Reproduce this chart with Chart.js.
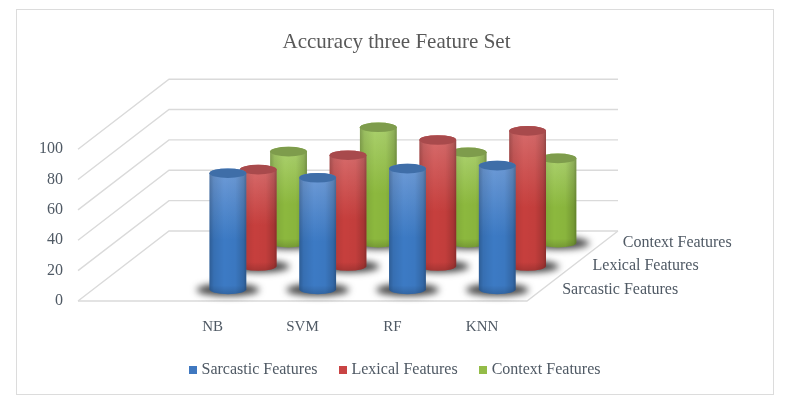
<!DOCTYPE html>
<html>
<head>
<meta charset="utf-8">
<title>Accuracy three Feature Set</title>
<script src="https://cdn.jsdelivr.net/npm/chart.js@4/dist/chart.umd.min.js"></script>
<style>
  html, body { margin: 0; padding: 0; background: #fff; }
  #frame { position: absolute; left: 16px; top: 9px; width: 756px; height: 384px; border: 1.5px solid #dcdcdc; }
  canvas { position: absolute; left: 0; top: 0; }
</style>
</head>
<body>
<div id="frame"></div>
<canvas id="myChart" width="793" height="402"></canvas>
<script>
// the first slot of the category axis is empty in the original chart
var categories = ['', 'NB', 'SVM', 'RF', 'KNN'];
var sarcastic = [null, 76.5, 73.5, 79.5, 81.5];
var lexical = [null, 63.5, 73, 83, 89];
var context = [null, 60, 76, 59.5, 55.5];
var seriesNames = ['Sarcastic Features', 'Lexical Features', 'Context Features'];

var textColor = '#4f5964';
var fontFamily = '"Liberation Serif", serif';

// oblique projection of the floor
var depthX = 91;
var depthY = -70;
var rowDepth = [1 / 6, 3 / 6, 5 / 6];

var palettes = [
    { legend: '#3f78c0', top: '#3f6ea8', upper: '#6c9ad6', lower: '#3c7ac4' },
    { legend: '#c94444', top: '#a84a4c', upper: '#d66a6a', lower: '#c63f3d' },
    { legend: '#94bc48', top: '#7e9c4c', upper: '#aad06c', lower: '#8cb83e' }
];

function swatch(color) {
    var c = document.createElement('canvas');
    c.width = 8;
    c.height = 8;
    var g = c.getContext('2d');
    g.fillStyle = color;
    g.fillRect(0, 0, 8, 8);
    return c;
}

function drawWalls(chart) {
    var ctx = chart.ctx;
    var x = chart.scales.x;
    var y = chart.scales.y;
    ctx.save();
    ctx.strokeStyle = '#dadada';
    ctx.lineWidth = 1.4;
    y.ticks.forEach(function(tick) {
        var py = y.getPixelForValue(tick.value);
        ctx.beginPath();
        ctx.moveTo(x.left, py);
        ctx.lineTo(x.left + depthX, py + depthY);
        ctx.lineTo(x.right + depthX, py + depthY);
        ctx.stroke();
    });
    // floor edges
    var floor = y.getPixelForValue(0);
    ctx.beginPath();
    ctx.moveTo(x.left, floor);
    ctx.lineTo(x.right, floor);
    ctx.lineTo(x.right + depthX, floor + depthY);
    ctx.stroke();
    ctx.restore();
}

function drawShadow(ctx, cx, cy, rx) {
    ctx.save();
    ctx.filter = 'blur(3.5px)';
    ctx.fillStyle = 'rgba(45,45,45,0.9)';
    ctx.beginPath();
    ctx.ellipse(cx, cy + 0.5, rx + 13, 6, 0, 0, Math.PI * 2);
    ctx.fill();
    ctx.restore();
}

function drawCylinder(ctx, cx, topY, baseY, rx, pal) {
    var ry = 4.8;
    var left = cx - rx;
    var right = cx + rx;

    ctx.save();
    ctx.beginPath();
    ctx.moveTo(left, topY);
    ctx.lineTo(left, baseY);
    ctx.ellipse(cx, baseY, rx, ry, 0, Math.PI, 0, true);
    ctx.lineTo(right, topY);
    ctx.ellipse(cx, topY, rx, ry, 0, 0, Math.PI, true);
    ctx.closePath();

    var vert = ctx.createLinearGradient(0, topY, 0, baseY + ry);
    vert.addColorStop(0, pal.upper);
    vert.addColorStop(0.55, pal.lower);
    vert.addColorStop(1, pal.lower);
    ctx.fillStyle = vert;
    ctx.fill();

    // round shading across the body
    var side = ctx.createLinearGradient(left, 0, right, 0);
    side.addColorStop(0, 'rgba(0,0,0,0.24)');
    side.addColorStop(0.12, 'rgba(0,0,0,0.09)');
    side.addColorStop(0.4, 'rgba(0,0,0,0)');
    side.addColorStop(0.7, 'rgba(0,0,0,0.02)');
    side.addColorStop(0.92, 'rgba(0,0,0,0.16)');
    side.addColorStop(1, 'rgba(0,0,0,0.3)');
    ctx.fillStyle = side;
    ctx.fill();

    // darker lip at the bottom
    var lip = ctx.createLinearGradient(0, baseY - 4, 0, baseY + ry);
    lip.addColorStop(0, 'rgba(0,0,0,0)');
    lip.addColorStop(1, 'rgba(0,0,0,0.16)');
    ctx.fillStyle = lip;
    ctx.fill();

    ctx.beginPath();
    ctx.ellipse(cx, topY, rx, ry, 0, 0, Math.PI * 2);
    ctx.fillStyle = pal.top;
    ctx.fill();
    ctx.restore();
}

var cylinderPlugin = {
    id: 'cylinders',
    beforeDatasetsDraw: function(chart) {
        drawWalls(chart);
    },
    // native flat bars are skipped, their elements still give the geometry
    beforeDatasetDraw: function() {
        return false;
    },
    afterDatasetsDraw: function(chart) {
        var ctx = chart.ctx;
        // back row first
        for (var i = 2; i >= 0; i--) {
            var dx = depthX * rowDepth[i];
            var dy = depthY * rowDepth[i];
            var bars = chart.getDatasetMeta(i).data;
            bars.forEach(function(bar, j) {
                if (chart.data.datasets[i].data[j] == null) return;
                drawShadow(ctx, bar.x + dx, bar.base + dy, bar.width / 2);
            });
            bars.forEach(function(bar, j) {
                if (chart.data.datasets[i].data[j] == null) return;
                drawCylinder(ctx, bar.x + dx, bar.y + dy, bar.base + dy, bar.width / 2, palettes[i]);
            });
        }
        // labels of the depth axis
        var x = chart.scales.x;
        var floor = chart.scales.y.getPixelForValue(0);
        ctx.save();
        ctx.font = '16px ' + fontFamily;
        ctx.fillStyle = textColor;
        ctx.textBaseline = 'middle';
        seriesNames.forEach(function(name, i) {
            ctx.fillText(name, x.right + depthX * rowDepth[i] + 20, floor + depthY * rowDepth[i]);
        });
        ctx.restore();
    }
};

var ctx = document.getElementById('myChart').getContext('2d');
var myChart = new Chart(ctx, {
    type: 'bar',
    data: {
        labels: categories,
        datasets: [
            { label: seriesNames[0], data: sarcastic, backgroundColor: palettes[0].legend },
            { label: seriesNames[1], data: lexical, backgroundColor: palettes[1].legend },
            { label: seriesNames[2], data: context, backgroundColor: palettes[2].legend }
        ]
    },
    plugins: [cylinderPlugin],
    options: {
        responsive: false,
        animation: false,
        layout: { padding: { bottom: 14 } },
        datasets: { bar: { grouped: false, categoryPercentage: 1, barPercentage: 0.41 } },
        plugins: {
            tooltip: { enabled: false },
            title: {
                display: true,
                text: 'Accuracy three Feature Set',
                color: '#595959',
                font: { family: fontFamily, size: 21, weight: 'normal' },
                padding: { top: 30, bottom: 94 }
            },
            legend: {
                position: 'bottom',
                labels: {
                    color: textColor,
                    font: { family: fontFamily, size: 16 },
                    usePointStyle: true,
                    pointStyleWidth: 1,
                    boxHeight: 8,
                    padding: 25,
                    generateLabels: function(chart) {
                        var items = Chart.defaults.plugins.legend.labels.generateLabels(chart);
                        items.forEach(function(item, i) {
                            item.pointStyle = swatch(palettes[i].legend);
                        });
                        return items;
                    }
                }
            }
        },
        scales: {
            x: {
                grid: { display: false },
                border: { display: false },
                ticks: {
                    color: textColor,
                    font: { family: fontFamily, size: 15 },
                    padding: 9,
                    autoSkip: false,
                    maxRotation: 0
                },
                afterFit: function(scale) { scale.height = 36; }
            },
            y: {
                min: 0,
                max: 100,
                grid: { display: false },
                border: { display: false },
                ticks: {
                    stepSize: 20,
                    color: textColor,
                    font: { family: fontFamily, size: 16 },
                    padding: 7
                },
                afterFit: function(scale) { scale.width = 78; }
            },
            // only reserves the room for the depth labels on the right
            depth: {
                type: 'category',
                labels: seriesNames,
                position: 'right',
                grid: { display: false },
                border: { display: false },
                ticks: { display: false },
                afterFit: function(scale) { scale.width = 266; }
            }
        }
    }
});
</script>
</body>
</html>
